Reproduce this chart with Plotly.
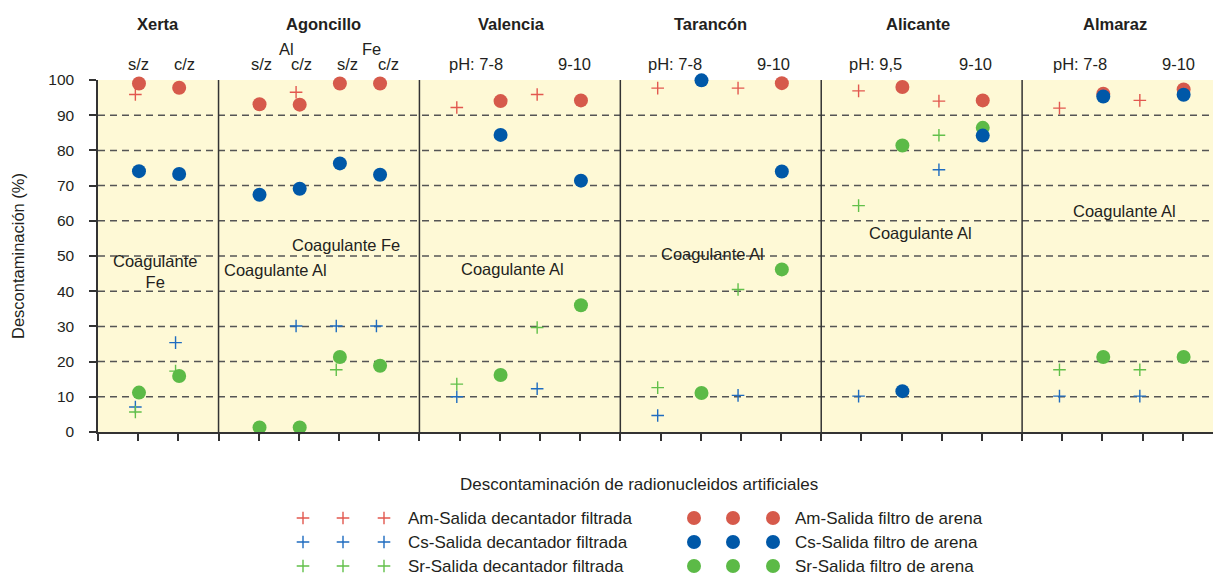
import plotly.graph_objects as go

# ---------------- data ----------------
panels = ["Xerta", "Agoncillo", "Valencia", "Tarancón", "Alicante", "Almaraz"]
panel_title_x = [1.5, 5.6, 10.3, 15.25, 20.4, 25.3]
separators = [3, 8, 13, 18, 23]

slots = [1, 2, 4, 5, 6, 7, 9, 10, 11, 12, 14, 15, 16, 17, 19, 20, 21, 22, 24, 25, 26, 27]

am_cross = [95.9, None, None, 96.5, None, None, 92.2, None, 95.9, None, 97.7, None, 97.7, None,
            96.9, None, 94.0, None, 92.0, None, 94.2, None]
cs_cross = [7.1, 25.4, None, 30.1, 30.1, 30.1, 10.0, None, 12.3, None, 4.7, None, 10.4, None,
            10.2, None, 74.5, None, 10.2, None, 10.2, None]
sr_cross = [5.7, 17.3, None, None, 17.7, None, 13.6, None, 29.7, None, 12.6, None, 40.5, None,
            64.3, None, 84.3, None, 17.7, None, 17.7, None]
am_circle = [99.0, 97.8, 93.1, 93.0, 99.0, 99.0, None, 94.0, None, 94.2, None, None, None, 99.1,
             None, 98.0, None, 94.2, None, 96.1, None, 97.3]
cs_circle = [74.1, 73.3, 67.4, 69.1, 76.3, 73.1, None, 84.4, None, 71.4, None, 99.9, None, 74.0,
             None, 11.6, None, 84.2, None, 95.3, None, 95.8]
sr_circle = [11.2, 15.9, 1.3, 1.3, 21.3, 18.8, None, 16.2, None, 36.0, None, 11.1, None, 46.2,
             None, 81.4, None, 86.4, None, 21.3, None, 21.3]

sub_labels = ["s/z", "c/z", "s/z", "c/z", "s/z", "c/z", "pH: 7-8", "9-10", "pH: 7-8", "9-10",
              "pH: 9,5", "9-10", "pH: 7-8", "9-10"]
sub_label_x = [1.0, 2.15, 4.06, 5.07, 6.2, 7.22, 9.41, 11.87, 14.35, 16.8, 19.36, 21.83, 24.44, 26.9]
group_labels = ["Al", "Fe"]
group_label_x = [4.7, 6.8]

coag_labels = ["Coagulante<br>Fe", "Coagulante Al", "Coagulante Fe", "Coagulante Al",
               "Coagulante Al", "Coagulante Al", "Coagulante Al"]
coag_x = [1.42, 4.42, 6.16, 10.32, 15.3, 20.48, 25.54]
coag_y = [45.5, 45.9, 53.2, 46.4, 50.5, 56.6, 62.7]

legend_cross_names = ["Am-Salida decantador filtrada", "Cs-Salida decantador filtrada",
                      "Sr-Salida decantador filtrada"]
legend_circle_names = ["Am-Salida filtro de arena", "Cs-Salida filtro de arena",
                       "Sr-Salida filtro de arena"]

x_title = "Descontaminación de radionucleidos artificiales"
y_title = "Descontaminación (%)"

# ---------------- style ----------------
FONT = "Liberation Sans, Arial, sans-serif"
TXT = "#231F20"
circle_colors = ["#D65A4B", "#0058A8", "#5CBA47"]
cross_colors = ["#E2584F", "#1F6CC0", "#62C04A"]
BG = "#FEF9D6"
cross_off = -0.07
circle_off = 0.02

# the page body has an 8px margin: shrink the figure so it ends at the window edge
PAGE = 8
REF_W, REF_H = 1221, 576
W, H = REF_W - PAGE, REF_H - PAGE
ML, MT = 98 - PAGE, 80 - PAGE
main_bottom_ref = 432
plot_h = H - MT
y_dom0 = (REF_H - main_bottom_ref) / plot_h


def paper_y(px):
    return (REF_H - px) / plot_h


fig = go.Figure()


def xs(vals, off):
    return [s + off for s, v in zip(slots, vals) if v is not None]


def ys(vals):
    return [v for v in vals if v is not None]


for vals, col, name in zip([am_cross, cs_cross, sr_cross], cross_colors, legend_cross_names):
    fig.add_trace(go.Scatter(x=xs(vals, cross_off), y=ys(vals), mode="markers", name=name,
                             marker=dict(symbol="cross-thin", size=9, line=dict(color=col, width=1.4)),
                             cliponaxis=False, showlegend=False))

order = [2, 0, 1]  # Sr, Am, Cs
circ = [am_circle, cs_circle, sr_circle]
for i in order:
    fig.add_trace(go.Scatter(x=xs(circ[i], circle_off), y=ys(circ[i]), mode="markers",
                             name=legend_circle_names[i],
                             marker=dict(symbol="circle", size=14, color=circle_colors[i]),
                             cliponaxis=False, showlegend=False))

# ---------------- custom legend on a helper axis (reference pixel units) ----------------
leg_rows = [518, 542, 566]
leg_cross_x = [303, 343, 384]
leg_circle_x = [694, 733, 773]
for r, y in enumerate(leg_rows):
    fig.add_trace(go.Scatter(x=leg_cross_x, y=[y] * 3, xaxis="x2", yaxis="y2", mode="markers",
                             marker=dict(symbol="cross-thin", size=9,
                                         line=dict(color=cross_colors[r], width=1.4)),
                             cliponaxis=False, showlegend=False, hoverinfo="skip"))
    fig.add_trace(go.Scatter(x=leg_circle_x, y=[y] * 3, xaxis="x2", yaxis="y2", mode="markers",
                             marker=dict(symbol="circle", size=14, color=circle_colors[r]),
                             cliponaxis=False, showlegend=False, hoverinfo="skip"))

annotations = []
for r, y in enumerate(leg_rows):
    annotations.append(dict(x=406, y=y, xref="x2", yref="y2", text=legend_cross_names[r],
                            showarrow=False, xanchor="left", yanchor="middle",
                            font=dict(size=17, color=TXT, family=FONT)))
    annotations.append(dict(x=793, y=y, xref="x2", yref="y2", text=legend_circle_names[r],
                            showarrow=False, xanchor="left", yanchor="middle",
                            font=dict(size=17, color=TXT, family=FONT)))
annotations.append(dict(x=639, y=484, xref="x2", yref="y2", text=x_title, showarrow=False,
                        xanchor="center", yanchor="middle", font=dict(size=17, color=TXT, family=FONT)))

for name, x in zip(panels, panel_title_x):
    annotations.append(dict(x=x, y=paper_y(24), xref="x", yref="paper", text="<b>" + name + "</b>",
                            showarrow=False, yanchor="middle",
                            font=dict(size=16.5, color=TXT, family=FONT)))
for t, x in zip(sub_labels, sub_label_x):
    annotations.append(dict(x=x, y=paper_y(64), xref="x", yref="paper", text=t, showarrow=False,
                            yanchor="middle", font=dict(size=16.5, color=TXT, family=FONT)))
for t, x in zip(group_labels, group_label_x):
    annotations.append(dict(x=x, y=paper_y(49), xref="x", yref="paper", text=t, showarrow=False,
                            yanchor="middle", font=dict(size=16.5, color=TXT, family=FONT)))
for t, x, y in zip(coag_labels, coag_x, coag_y):
    annotations.append(dict(x=x, y=y, xref="x", yref="y", text=t, showarrow=False,
                            font=dict(size=16.5, color=TXT, family=FONT)))

shapes = [dict(type="rect", xref="x domain", yref="y domain", x0=0, x1=1, y0=0, y1=1,
               fillcolor=BG, line=dict(width=0), layer="below")]
for g in range(10, 100, 10):
    shapes.append(dict(type="line", xref="x domain", yref="y", x0=0, x1=1, y0=g, y1=g,
                       line=dict(color="#555555", width=1.5, dash="7px,5px"), layer="below"))
for s in separators:
    shapes.append(dict(type="line", xref="x", yref="y", x0=s, x1=s, y0=0, y1=100,
                       line=dict(color="#333333", width=1.5), layer="below"))

fig.update_layout(
    width=W, height=H,
    margin=dict(l=ML, r=0, t=MT, b=0),
    paper_bgcolor="white", plot_bgcolor="white",
    font=dict(family=FONT, color=TXT, size=16),
    xaxis=dict(range=[0, 27.95], domain=[0, 1], tickvals=list(range(0, 28)), showticklabels=False,
               ticks="outside", ticklen=7, tickwidth=1.5, tickcolor="#333333",
               showline=True, linecolor="#333333", linewidth=1.5, showgrid=False, zeroline=False,
               anchor="y", automargin=False),
    yaxis=dict(range=[0, 100], domain=[y_dom0, 1], tickvals=list(range(0, 101, 10)),
               ticks="outside", ticklen=7, tickwidth=1.5, tickcolor="#333333",
               ticklabelstandoff=12,
               tickfont=dict(size=15.5, color=TXT, family=FONT),
               showline=True, linecolor="#333333", linewidth=1.5, showgrid=False, zeroline=False,
               title=dict(text=y_title, font=dict(size=16.5, color=TXT, family=FONT), standoff=20),
               anchor="x", automargin=False),
    xaxis2=dict(range=[98, REF_W], domain=[0, 1], visible=False, anchor="y2", automargin=False),
    yaxis2=dict(range=[REF_H, main_bottom_ref + 10],
                domain=[0, (REF_H - main_bottom_ref - 10) / plot_h],
                visible=False, anchor="x2", automargin=False),
    annotations=annotations,
    shapes=shapes,
)

fig.write_html("out.html")
